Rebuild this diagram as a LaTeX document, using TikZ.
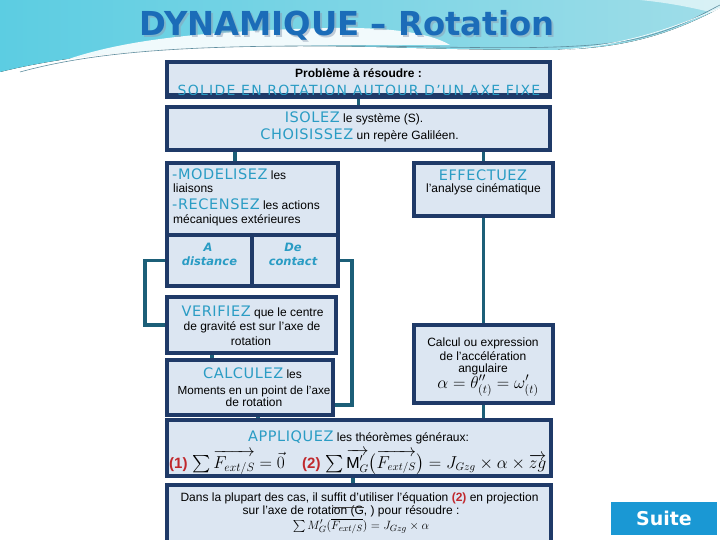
\documentclass[tikz,border=0pt]{standalone}
\usepackage{amsmath}
\usepackage{fontspec}
\setmainfont{Liberation Sans}
\newfontfamily\vfont[LetterSpace=4]{DejaVu Sans}
\newfontfamily\wfont[LetterSpace=9]{DejaVu Sans}
\newfontfamily\dvfont{DejaVu Sans}
\usetikzlibrary{backgrounds}
\definecolor{navy}{HTML}{1F3A68}
\definecolor{boxfill}{HTML}{DCE6F2}
\definecolor{hlc}{HTML}{2A9CC4}
\definecolor{conn}{HTML}{1C5F78}
\definecolor{redn}{HTML}{C0282D}
\definecolor{titleblue}{HTML}{1B6CB8}
\definecolor{suiteblue}{HTML}{1A98D4}
\definecolor{cyanA}{HTML}{5CCDE2}
\definecolor{cyanB}{HTML}{9FDDE8}
\newcommand\hlw[1]{{\vfont\fontsize{14.5}{15}\selectfont\color{hlc}#1}}
\tikzset{
  bx/.style={draw=navy, line width=3.8pt, fill=boxfill, inner sep=0pt},
  cn/.style={draw=conn, line width=3.8pt},
  tx/.style={inner sep=0pt, anchor=base, font=\fontsize{12}{14}\selectfont},
  txl/.style={tx, anchor=base west},
  dist/.style={tx, font=\dvfont\bfseries\itshape\fontsize{11.5}{13}\selectfont, text=hlc},
}
\begin{document}
\begin{tikzpicture}[x=1pt,y=-1pt]
\useasboundingbox (0,0) rectangle (720,540);
\clip (0,0) rectangle (720,540);
% header
\fill[left color=cyanA, right color=cyanB] (0,0) -- (720,0) -- (720,8)
  .. controls (660,40) and (610,50) .. (540,50)
  .. controls (450,50) and (380,46) .. (300,46)
  .. controls (180,46) and (80,52) .. (0,72) -- cycle;
\fill[white, opacity=0.9] (60,62) .. controls (120,40) and (200,31) .. (330,28)
  .. controls (390,27) and (430,33) .. (450,45)
  .. controls (360,45) and (180,44) .. (60,62) -- cycle;
\fill[white, opacity=0.6] (640,0) .. controls (680,4) and (700,10) .. (720,14) -- (720,0) -- cycle;
\draw[conn!70, line width=0.6pt] (20,72) .. controls (100,50) and (200,45) .. (360,46)
  .. controls (480,47) and (580,52) .. (640,38) .. controls (680,28) and (700,15) .. (720,5);
\draw[white, line width=0.6pt] (560,50) .. controls (640,44) and (690,20) .. (720,8);
% title
\node[text=navy!50, opacity=0.5] (tshadow) at (349,27) {\dvfont\bfseries\fontsize{33}{36}\selectfont\scalebox{0.98}[1]{DYNAMIQUE – Rotation}};
\node[text=titleblue] (title) at (347,25) {\dvfont\bfseries\fontsize{33}{36}\selectfont\scalebox{0.98}[1]{DYNAMIQUE – Rotation}};
% boxes
\node[bx, minimum width=383pt, minimum height=33pt] (prob) at (358.5,78.5) {};
\node[bx, minimum width=383pt, minimum height=43pt] (isol) at (358.5,128.5) {};
\node[bx, minimum width=171pt, minimum height=123pt] (model) at (252.5,224.5) {};
\node[bx, minimum width=85pt, minimum height=51pt] (adist) at (209.5,260.5) {};
\node[bx, minimum width=86pt, minimum height=51pt] (dcont) at (295,260.5) {};
\node[bx, minimum width=139pt, minimum height=53pt] (eff) at (483.5,189.5) {};
\node[bx, minimum width=169pt, minimum height=56pt] (verif) at (251.5,325) {};
\node[bx, minimum width=166pt, minimum height=55pt] (calc) at (250,387.5) {};
\node[bx, minimum width=139pt, minimum height=78pt] (calk) at (483.5,364) {};
\node[bx, minimum width=384pt, minimum height=56pt] (appl) at (359,448) {};
\node[bx, minimum width=384pt, minimum height=75pt] (bott) at (359,522.5) {};
% connectors
\coordinate (c1) at (235,0);
\coordinate (lx) at (145,0);
\coordinate (rx) at (352,0);
\coordinate (ry) at (0,405);
\coordinate (vx) at (212,0);
\coordinate (cx) at (258,0);
\coordinate (ax) at (353,0);
\begin{scope}[on background layer]
\draw[cn] (prob.south) -- (isol.north);
\draw[cn] (isol.south -| c1) -- (model.north -| c1);
\draw[cn] (isol.south -| eff.north) -- (eff.north);
\draw[cn] (eff.south) -- (calk.north);
\draw[cn] (adist.west) -- (adist.west -| lx) -- (verif.west -| lx) -- (verif.west);
\draw[cn] (dcont.east) -- (dcont.east -| rx) -- (rx |- ry) -- (calc.east |- ry);
\draw[cn] (verif.south -| vx) -- (calc.north -| vx);
\draw[cn] (calc.south -| cx) -- (appl.north -| cx);
\draw[cn] (calk.south) -- (appl.north -| calk.south);
\draw[cn] (appl.south -| ax) -- (bott.north -| ax);
\end{scope}
% texts
\node[tx] (t1) at (358.5,77.5) {\bfseries Problème à résoudre :};
\node[tx, font=\wfont\fontsize{14}{15}\selectfont, text=hlc] (t2) at (359,96) {SOLIDE EN ROTATION AUTOUR D’UN AXE FIXE};
\draw[navy, line width=3.8pt] (prob.south west) -- (prob.south east);
\node[tx] (t3) at (354,123) {\hlw{ISOLEZ} le système (S).};
\node[tx] (t4) at (359.5,140) {\hlw{CHOISISSEZ} un repère Galiléen.};
\node[txl] (t5) at (172,180) {\hlw{-MODELISEZ} les};
\node[txl] (t6) at (173,193) {liaisons};
\node[txl] (t7) at (172,210) {\hlw{-RECENSEZ} les actions};
\node[txl] (t8) at (173,224) {mécaniques extérieures};
\node[dist] (d1) at (208,251.5) {A};
\node[dist] (d2) at (209.5,265) {distance};
\node[dist] (d3) at (293,251.5) {De};
\node[dist] (d4) at (293,265) {contact};
\node[tx] (e1) at (483,181) {\hlw{EFFECTUEZ}};
\node[tx] (e2) at (483.5,193) {l'analyse cinématique};
\node[tx] (v1) at (252.5,316.5) {\hlw{VERIFIEZ} que le centre};
\node[tx] (v2) at (252,330) {de gravité est sur l'axe de};
\node[tx] (v3) at (251,345) {rotation};
\node[tx] (k1) at (252.5,378) {\hlw{CALCULEZ} les};
\node[tx, font=\fontsize{11.7}{14}\selectfont] (k2) at (254,394) {Moments en un point de l'axe};
\node[tx] (k3) at (254,406.5) {de rotation};
\node[tx] (a1) at (483,346) {Calcul ou expression};
\node[tx] (a2) at (483,360) {de l'accélération};
\node[tx] (a3) at (483,372) {angulaire};
\node[tx, font=\fontsize{16.5}{18}\selectfont] (a4) at (488,388) {$\alpha=\theta''_{(t)}=\omega'_{(t)}$};
\node[tx] (p1) at (358.5,441) {\hlw{APPLIQUEZ} les théorèmes généraux:};
\node[txl, font=\bfseries\fontsize{15}{16}\selectfont, text=redn] (p2) at (169,468) {(1)};
\node[txl, font=\fontsize{16.5}{20}\selectfont] (p3) at (192,468) {$\sum\overrightarrow{F_{ext/S}}=\vec{0}$};
\node[txl, font=\bfseries\fontsize{15}{16}\selectfont, text=redn] (p4) at (302,468) {(2)};
\node[txl, font=\fontsize{16}{20}\selectfont] (p5) at (325,468) {$\sum\overrightarrow{\mathrm{M}'_G}\bigl(\overrightarrow{F_{ext/S}}\bigr)=J_{Gzg}\times\alpha\times\overrightarrow{zg}$};
\node[tx] (b1) at (359.5,501.5) {Dans la plupart des cas, il suffit d'utiliser l'équation {\color{redn}\bfseries(2)} en projection};
\node[tx] (b2) at (351,514) {sur l'axe de rotation (G, ) pour résoudre :};
\coordinate (o1) at (333,507);
\coordinate (o2) at (364,507);
\draw[line width=0.8pt, black!75] (o1) -- (o2);
\node[tx, font=\fontsize{12.5}{15}\selectfont] (b3) at (361,529) {$\sum M'_G(\overline{F_{ext/S}})=J_{Gzg}\times\alpha$};
% suite button
\node[fill=suiteblue, minimum width=106pt, minimum height=33pt, inner sep=0pt] (suite) at (664,518.5) {\color{white}\dvfont\bfseries\fontsize{19}{20}\selectfont Suite};
\end{tikzpicture}
\end{document}
